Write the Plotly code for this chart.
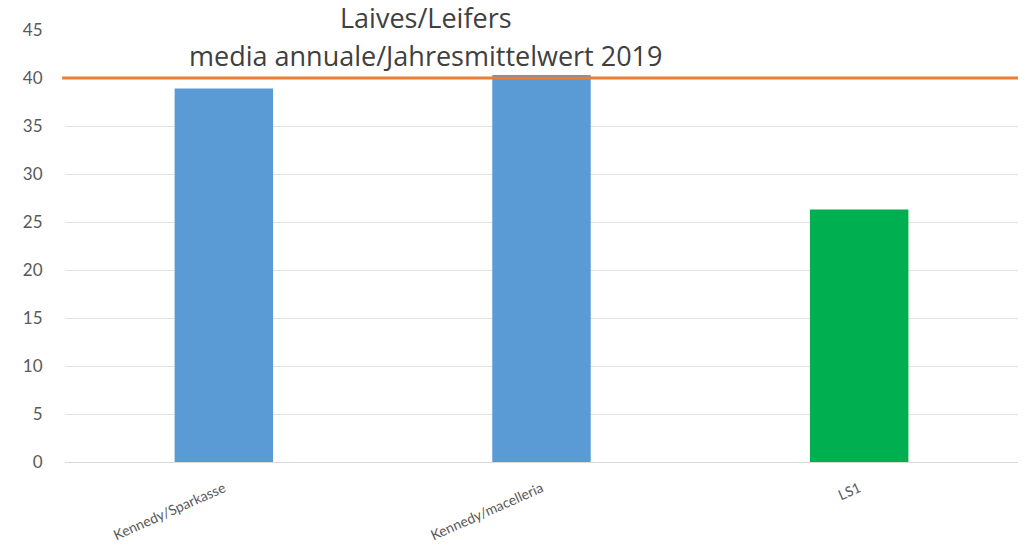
import plotly.graph_objects as go

categories = ["Kennedy/Sparkasse", "Kennedy/macelleria", "LS1"]
values = [38.9, 40.3, 26.3]
bar_colors = ["#5B9BD5", "#5B9BD5", "#00B050"]
limit_value = 40
y_ticks = [0, 5, 10, 15, 20, 25, 30, 35, 40, 45]
title_lines = ["Laives/Leifers", "media annuale/Jahresmittelwert 2019"]

fig = go.Figure()
fig.add_trace(go.Bar(
    x=categories, y=values, marker_color=bar_colors,
    marker_line_width=0, width=0.31, showlegend=False,
))

# limit line
fig.add_shape(type="line", xref="paper", yref="y",
              x0=-0.003, x1=1.0, y0=limit_value, y1=limit_value,
              line=dict(color="#ED7D31", width=3), layer="above")

# white title box hiding the top gridline
fig.add_shape(type="rect", xref="paper", yref="y",
              x0=0.1186, x1=0.643, y0=44.3, y1=45.7,
              fillcolor="white", line_width=0, layer="above")

title_font = dict(family="Open Sans, sans-serif", size=27, color="#404040")
for txt, ypos in zip(title_lines, [1.028, 0.942]):
    fig.add_annotation(
        xref="paper", yref="paper", x=0.379, y=ypos, xanchor="center", yanchor="middle",
        text=txt, showarrow=False, font=title_font,
    )

fig.update_layout(
    width=1035, height=549,
    margin=dict(l=65, r=17, t=30, b=87),
    paper_bgcolor="white", plot_bgcolor="white",
    bargap=0.69,
    yaxis=dict(range=[0, 45], tickvals=y_ticks, showgrid=True, gridcolor="#E3E3E3",
               gridwidth=1, zeroline=False, showline=False, automargin=False,
               ticks="outside", ticklen=18, tickcolor="white",
               tickfont=dict(family="Lato, Open Sans, sans-serif", size=17, color="#595959")),
    xaxis=dict(showline=True, linecolor="#D9D9D9", linewidth=1, tickangle=-24,
               automargin=False,
               ticks="outside", ticklen=12, tickcolor="white",
               tickfont=dict(family="Lato, sans-serif", size=14, color="#595959")),
)

fig.write_html(
    "out.html",
    config={"displayModeBar": False},
    post_script="document.body.style.margin='0';document.body.style.overflow='hidden';",
)
